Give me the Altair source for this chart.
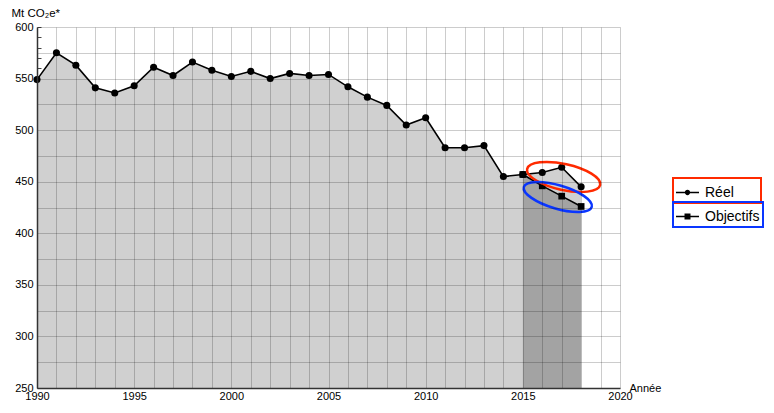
import altair as alt
import pandas as pd

# ---- data ----
years = list(range(1990, 2019))
reel = [549, 575, 563, 541, 536, 543, 561, 553, 566, 558, 552, 557, 550, 555,
        553, 554, 542, 532, 524, 505, 512, 483, 483, 485, 455, 457, 459, 464, 445]
obj_years = [2015, 2016, 2017, 2018]
objectifs = [457, 446, 436, 426]
series_names = ["Réel", "Objectifs"]
ell_years = [2017.1, 2016.8]
ell_values = [454.6, 435.2]
x_ticks = list(range(1990, 2021))
y_grid = list(range(250, 601, 25))
y_minor = list(range(250, 601, 10))

df_reel = pd.DataFrame({"annee": years, "val": reel, "serie": series_names[0]})
df_obj = pd.DataFrame({"annee": obj_years, "val": objectifs, "serie": series_names[1]})
df_ell = pd.DataFrame({"annee": ell_years, "val": ell_values, "serie": series_names})

FONT = "Liberation Sans"
RED = "#ff2a00"
BLUE = "#0a36ff"

xscale = alt.Scale(domain=[1990, 2020], nice=False, zero=False)
yscale = alt.Scale(domain=[250, 600], nice=False, zero=False)

xaxis = alt.Axis(values=x_ticks, tickCount=200, format="d",
                 labelExpr="datum.value % 5 === 0 ? datum.label : ''",
                 labelOverlap=False, labelFlush=False, ticks=False,
                 grid=True, gridColor="black", gridOpacity=0.2,
                 domainColor="#333333", domainWidth=1.5,
                 labelFont=FONT, labelFontSize=11, labelColor="black", labelPadding=2,
                 title="Année", titleX=592, titleY=3, titleAlign="left",
                 titleBaseline="alphabetic", titleFont=FONT, titleFontSize=11,
                 titleFontWeight="normal", titleColor="black", zindex=1)

yaxis = alt.Axis(values=y_grid, tickCount=200, format="d",
                 labelExpr="datum.value % 50 === 0 ? datum.label : ''",
                 labelOverlap=False, labelFlush=False, ticks=False,
                 grid=True, gridColor="black", gridOpacity=0.2,
                 domainColor="#333333", domainWidth=1.5,
                 labelFont=FONT, labelFontSize=11, labelColor="black", labelPadding=4,
                 title="Mt CO₂e*", titleAngle=0, titleX=-26, titleY=-11,
                 titleAlign="left", titleBaseline="alphabetic", titleFont=FONT,
                 titleFontSize=11.5, titleFontWeight="normal", titleColor="black",
                 zindex=1)

X = alt.X("annee:Q", scale=xscale, axis=xaxis)
Y = alt.Y("val:Q", scale=yscale, axis=yaxis)

area_reel = alt.Chart(df_reel).mark_area(color="#d0d0d0").encode(
    x=X, y=Y, y2=alt.datum(250))
area_obj = alt.Chart(df_obj).mark_area(color="#a3a3a3").encode(
    x="annee:Q", y="val:Q", y2=alt.datum(250))

line_obj = alt.Chart(df_obj).mark_line(color="black", strokeWidth=1.6).encode(
    x="annee:Q", y="val:Q")
pts_obj = alt.Chart(df_obj).mark_point(shape="square", filled=True, color="black",
                                       size=45, opacity=1).encode(x="annee:Q", y="val:Q")
line_reel = alt.Chart(df_reel).mark_line(color="black", strokeWidth=1.6).encode(
    x="annee:Q", y="val:Q")
pts_reel = alt.Chart(df_reel).mark_point(shape="circle", filled=True, color="black",
                                         size=50, opacity=1).encode(x="annee:Q", y="val:Q")

red_path = "M-37.4,0A37.4,13 0 1,1 37.4,0A37.4,13 0 1,1 -37.4,0Z"
blue_path = "M-35.4,0A35.4,11.7 0 1,1 35.4,0A35.4,11.7 0 1,1 -35.4,0Z"
ell_red = alt.Chart(df_ell.iloc[[0]]).mark_point(
    shape=red_path, size=4, filled=False, color=RED, strokeWidth=2.5,
    angle=12.4, opacity=1).encode(x="annee:Q", y="val:Q")
ell_blue = alt.Chart(df_ell.iloc[[1]]).mark_point(
    shape=blue_path, size=4, filled=False, color=BLUE, strokeWidth=2.5,
    angle=16.4, opacity=1).encode(x="annee:Q", y="val:Q")

bar_sym = "M-1,-0.07L1,-0.07L1,0.07L-1,0.07Z"
circle_sym = bar_sym + "M-0.23,0A0.23,0.23 0 1,1 0.23,0A0.23,0.23 0 1,1 -0.23,0Z"
square_sym = bar_sym + "M-0.26,-0.26L0.26,-0.26L0.26,0.26L-0.26,0.26Z"
pad_label = "\u00a0" * 6 + "\u200b"


def legend_layer(df, name, sym, border, ly, extra=""):
    return alt.Chart(df).transform_filter("false").mark_point(
        filled=True, fill="black", size=529, opacity=1, strokeWidth=0
    ).encode(
        shape=alt.Shape("serie:N",
                        scale=alt.Scale(domain=[name], range=[sym]),
                        legend=alt.Legend(
                            title=None, orient="none", legendX=636, legendY=ly,
                            strokeColor=border, padding=3,
                            labelFont=FONT, labelFontSize=14, labelColor="black",
                            labelOffset=6, symbolSize=529, symbolStrokeWidth=0,
                            symbolFillColor="black",
                            symbolOpacity=1,
                            labelExpr="datum.label + '" + extra + "'"))
    )


leg_reel = legend_layer(df_reel, series_names[0], circle_sym, RED, 151, pad_label)
leg_obj = legend_layer(df_obj, series_names[1], square_sym, BLUE, 175)

main = alt.layer(area_reel, area_obj, line_obj, pts_obj, line_reel, pts_reel,
                 ell_red, ell_blue, leg_reel, leg_obj).resolve_scale(shape="independent")

minor = alt.Chart(df_reel).transform_filter("false").mark_point().encode(
    y=alt.Y("val:Q", scale=yscale,
            axis=alt.Axis(values=y_minor, tickCount=200, orient="left", offset=-4,
                          tickSize=4, ticks=True, tickColor="#444444", labels=False,
                          domain=False, grid=False, title=None)))

chart = alt.layer(main, minor).resolve_axis(y="independent").properties(
    width=583, height=361,
    autosize=alt.AutoSizeParams(type="none"),
    padding={"left": 29, "top": 19, "right": 146, "bottom": 14},
    background="white",
).configure_view(strokeWidth=0).configure_legend(strokeWidth=2)

chart.save("out.html", embed_options={"renderer": "svg", "actions": False})
